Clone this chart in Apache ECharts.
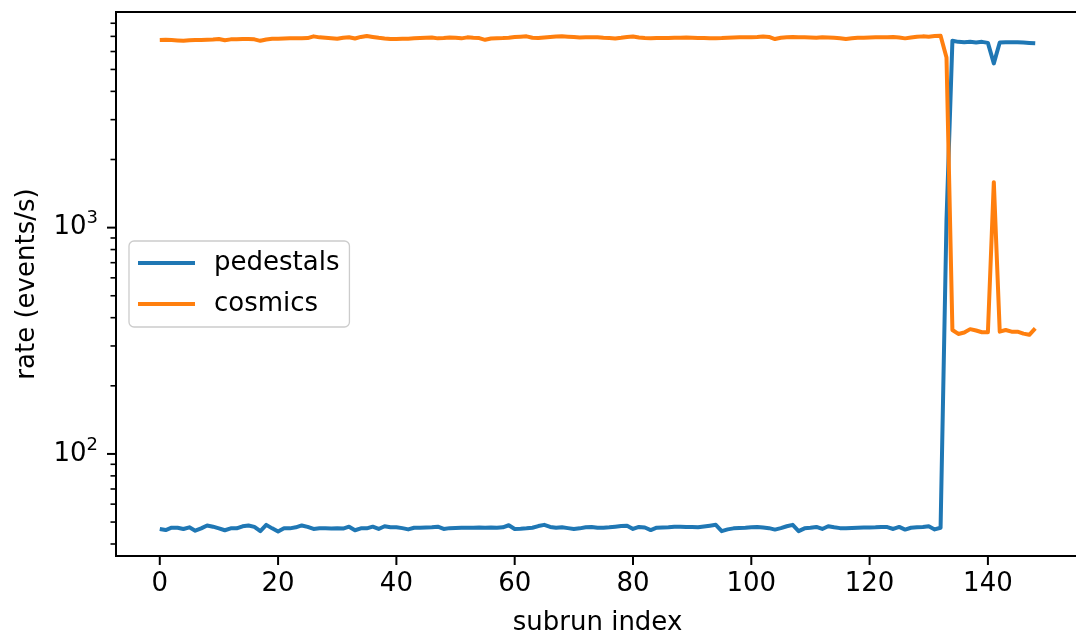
<!DOCTYPE html>
<html>
<head>
<meta charset="utf-8">
<script src="https://cdn.jsdelivr.net/npm/echarts@6/dist/echarts.min.js"></script>
<style>
html,body{margin:0;padding:0;background:#fff;}
#chart{width:1076px;height:639px;}
</style>
</head>
<body>
<div id="chart"></div>
<script>
// ---- data ----
const pedestals = [
  46.6, 46.1, 47.2, 47.2, 46.6, 47.4, 45.8, 46.9, 48.3, 47.7,
  46.9, 46.0, 46.9, 46.9, 47.9, 48.3, 47.6, 45.6, 48.6, 46.9,
  45.4, 46.9, 46.9, 47.4, 48.3, 47.6, 46.6, 46.9, 46.9, 46.8,
  46.9, 46.8, 47.7, 46.0, 46.9, 46.9, 47.7, 46.6, 47.9, 47.4,
  47.4, 47.0, 46.4, 47.2, 47.2, 47.3, 47.4, 47.7, 46.6, 47.0,
  47.1, 47.2, 47.2, 47.2, 47.3, 47.2, 47.3, 47.2, 47.4, 48.4,
  46.6, 46.7, 46.9, 47.2, 48.0, 48.6, 47.6, 47.2, 47.4, 47.0,
  46.6, 46.9, 47.4, 47.6, 47.2, 47.2, 47.4, 47.7, 48.0, 48.2,
  46.6, 47.6, 47.3, 46.1, 47.2, 47.3, 47.4, 47.7, 47.7, 47.6,
  47.6, 47.4, 47.8, 48.2, 48.6, 45.6, 46.4, 46.9, 47.1, 47.2,
  47.4, 47.6, 47.3, 47.0, 46.3, 47.0, 47.9, 48.6, 45.6, 46.9,
  47.2, 47.6, 46.6, 47.9, 47.4, 47.0, 46.9, 47.1, 47.2, 47.3,
  47.3, 47.4, 47.6, 47.5, 46.6, 47.6, 46.3, 47.2, 47.4, 47.6,
  47.9, 46.4, 47.2, 1080,
  6700, 6620, 6600, 6620, 6580, 6620, 6550, 5320, 6580, 6600,
  6600, 6590, 6570, 6550, 6530
];
const cosmics = [
  6750, 6760, 6740, 6720, 6690, 6730, 6750, 6740, 6760, 6780,
  6810, 6730, 6790, 6800, 6820, 6810, 6790, 6690, 6780, 6830,
  6840, 6850, 6860, 6860, 6870, 6880, 7000, 6930, 6900, 6870,
  6830, 6900, 6940, 6850, 6960, 7030, 6960, 6900, 6850, 6810,
  6820, 6830, 6840, 6860, 6880, 6900, 6920, 6860, 6880, 6920,
  6900, 6860, 6930, 6900, 6880, 6760, 6850, 6870, 6880, 6900,
  6950, 6980, 7000, 6900, 6880, 6920, 6960, 6990, 7000, 6980,
  6950, 6920, 6940, 6930, 6940, 6900, 6880, 6850, 6900, 6960,
  6990, 6920, 6880, 6860, 6890, 6880, 6880, 6900, 6910, 6920,
  6900, 6880, 6890, 6860, 6870, 6880, 6900, 6920, 6930, 6940,
  6930, 6950, 6990, 6960, 6810, 6900, 6940, 6950, 6940, 6930,
  6920, 6900, 6930, 6920, 6900, 6870, 6820, 6860, 6900, 6910,
  6920, 6930, 6940, 6930, 6950, 6920, 6860, 6920, 6970, 7000,
  6980, 7020, 7040, 5650,
  353, 339, 344, 356, 351, 345, 345, 1588, 347, 353,
  347, 347, 340, 336, 359
];
const seriesNames = ['pedestals', 'cosmics'];
const xTickValues = [0, 20, 40, 60, 80, 100, 120, 140];
const yMajorTicks = [100, 1000];
const yMinorTicks = [40, 50, 60, 70, 80, 90, 200, 300, 400, 500, 600, 700, 800, 900,
                     2000, 3000, 4000, 5000, 6000, 7000, 8000];
const xRange = [-7.4, 155.4];
const yRange = [35.4, 8970];

// ---- build ----
const subrunIndex = pedestals.map((_, i) => i);
const toPairs = arr => arr.map((v, i) => [subrunIndex[i], v]);
// kind: 1 = y major, 0 = y minor, 2 = x major
const tickData = yMajorTicks.map(v => [0, v, 1])
  .concat(yMinorTicks.map(v => [0, v, 0]))
  .concat(xTickValues.map(v => [v, 100, 2]));

const FONT = 'DejaVu Sans';
const chart = echarts.init(document.getElementById('chart'), null, {renderer: 'canvas'});
chart.setOption({
  animation: false,
  backgroundColor: '#ffffff',
  textStyle: {fontFamily: FONT},
  grid: {
    left: 116, top: 12, width: 963, height: 544,
    show: true, borderColor: '#000', borderWidth: 2, backgroundColor: 'transparent',
    containLabel: false, outerBoundsMode: 'none'
  },
  legend: {
    data: seriesNames,
    orient: 'vertical',
    left: 129, top: 241,
    padding: [7, 10, 8, 9],
    itemGap: 11,
    itemWidth: 57, itemHeight: 4,
    icon: 'rect',
    backgroundColor: 'rgba(255,255,255,0.8)',
    borderColor: '#cccccc', borderWidth: 1.3, borderRadius: 5,
    textStyle: {fontFamily: FONT, fontSize: 26, color: '#000', lineHeight: 30, padding: [0, 0, 0, 14]}
  },
  xAxis: {
    type: 'value',
    min: xRange[0], max: xRange[1],
    splitNumber: 8,
    name: 'subrun index',
    nameLocation: 'middle',
    nameGap: 54,
    nameTextStyle: {fontFamily: FONT, fontSize: 26, color: '#000'},
    axisLine: {show: true, onZero: false, lineStyle: {color: '#000', width: 2}},
    axisTick: {show: false},
    axisLabel: {show: true, margin: 15, fontFamily: FONT, fontSize: 26, color: '#000', customValues: xTickValues},
    splitLine: {show: false}
  },
  yAxis: {
    type: 'log',
    logBase: 10,
    min: yRange[0], max: yRange[1],
    name: 'rate (events/s)',
    nameLocation: 'middle',
    nameGap: 76,
    nameRotate: 90,
    nameTextStyle: {fontFamily: FONT, fontSize: 26, color: '#000'},
    axisLine: {show: true, onZero: false, lineStyle: {color: '#000', width: 2}},
    axisTick: {show: false},
    minorTick: {show: false},
    splitLine: {show: false},
    axisLabel: {
      show: true, margin: 18, fontFamily: FONT, fontSize: 26, color: '#000',
      showMinLabel: false, showMaxLabel: false,
      formatter: function (v) {
        const e = Math.log10(v);
        const r = Math.round(e);
        if (Math.abs(e - r) > 1e-6) return '';
        return '{base|10}{sup|' + r + '}';
      },
      rich: {
        base: {fontFamily: FONT, fontSize: 26, color: '#000'},
        sup: {fontFamily: FONT, fontSize: 18, color: '#000', padding: [0, 0, 18, 0]}
      }
    }
  },
  series: [
    {
      name: seriesNames[0], type: 'line', data: toPairs(pedestals),
      showSymbol: false, symbol: 'none',
      lineStyle: {color: '#1f77b4', width: 4, join: 'round', cap: 'butt'},
      itemStyle: {color: '#1f77b4'},
      z: 2
    },
    {
      name: seriesNames[1], type: 'line', data: toPairs(cosmics),
      showSymbol: false, symbol: 'none',
      lineStyle: {color: '#ff7f0e', width: 4, join: 'round', cap: 'butt'},
      itemStyle: {color: '#ff7f0e'},
      z: 3
    },
    {
      type: 'custom',
      clip: false,
      silent: true,
      data: tickData,
      encode: {x: 0, y: 1},
      renderItem: function (params, api) {
        const kind = api.value(2);
        const cs = params.coordSys;
        if (kind === 2) {
          const x = api.coord([api.value(0), 100])[0];
          const yb = cs.y + cs.height;
          return {
            type: 'line',
            shape: {x1: x, y1: yb, x2: x, y2: yb + 9},
            style: {stroke: '#000', lineWidth: 2}
          };
        }
        const y = api.coord([0, api.value(1)])[1];
        const x0 = cs.x;
        const major = kind === 1;
        const len = major ? 9 : 5.5;
        return {
          type: 'line',
          shape: {x1: x0 - len, y1: y, x2: x0, y2: y},
          style: {stroke: '#000', lineWidth: major ? 2 : 1.6}
        };
      },
      z: 5
    }
  ]
});
</script>
</body>
</html>
